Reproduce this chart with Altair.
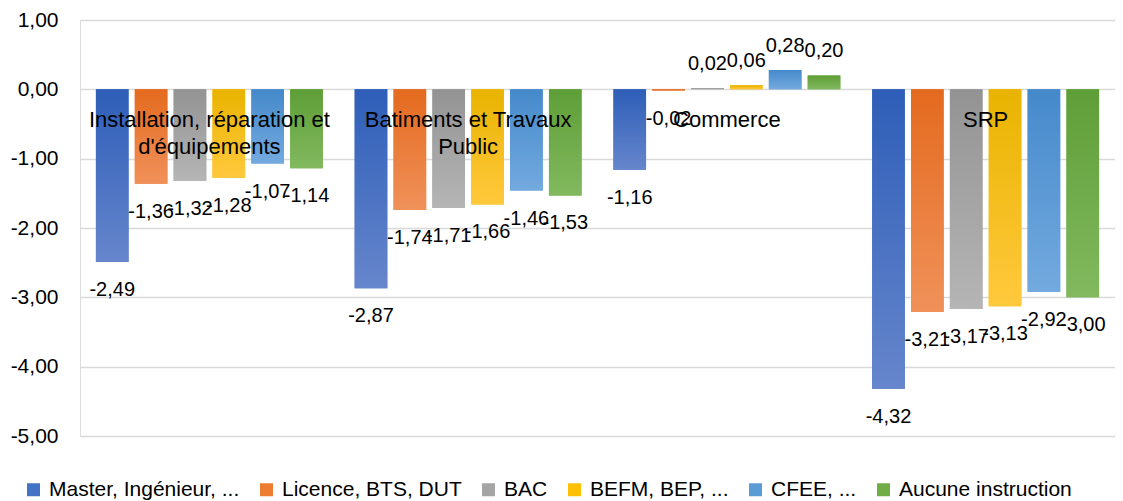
import altair as alt
import pandas as pd

categories = [
    "Installation, réparation et d'équipements",
    "Batiments et Travaux Public",
    "Commerce",
    "SRP",
]
category_labels = [
    "Installation, réparation et\nd'équipements",
    "Batiments et Travaux\nPublic",
    "Commerce",
    "SRP",
]
levels = [
    "Master, Ingénieur, ...",
    "Licence, BTS, DUT",
    "BAC",
    "BEFM, BEP, ...",
    "CFEE, ...",
    "Aucune instruction",
]
values_installation = [-2.49, -1.36, -1.32, -1.28, -1.07, -1.14]
values_btp = [-2.87, -1.74, -1.71, -1.66, -1.46, -1.53]
values_commerce = [-1.16, -0.02, 0.02, 0.06, 0.28, 0.20]
values_srp = [-4.32, -3.21, -3.17, -3.13, -2.92, -3.00]
y_ticks = [1, 0, -1, -2, -3, -4, -5]

colors = ["#4472C4", "#ED7D31", "#A5A5A5", "#FFC000", "#5B9BD5", "#70AD47"]
grad_top = ["#2E5EB8", "#E46A1E", "#939393", "#E9B300", "#4589CB", "#5E9E37"]
grad_bot = ["#6686CC", "#F0915A", "#B5B5B5", "#FFC93D", "#73AADF", "#82B95F"]

all_values = [values_installation, values_btp, values_commerce, values_srp]
rows = []
for cat, vals in zip(categories, all_values):
    for lev, v in zip(levels, vals):
        rows.append({"category": cat, "level": lev, "value": v})
df = pd.DataFrame(rows)
cat_df = pd.DataFrame({"category": categories, "label": category_labels})

FONT = "Liberation Sans"

x_enc = alt.X(
    "category:N",
    sort=categories,
    axis=None,
    scale=alt.Scale(domain=categories, paddingInner=0.123, paddingOuter=0.0615),
)
xoff_enc = alt.XOffset(
    "level:N",
    sort=levels,
    scale=alt.Scale(domain=levels, paddingInner=0.16, paddingOuter=0),
)
y_enc = alt.Y(
    "value:Q",
    scale=alt.Scale(domain=[-5, 1], nice=False, zero=False),
    axis=alt.Axis(
        values=y_ticks,
        labelExpr="replace(replace(format(datum.value, '.2f'), '.', ','), '\u2212', '-')",
        title=None,
        domain=False,
        ticks=False,
        labelPadding=22,
        labelFontSize=21,
        labelColor="#000000",
        gridColor="#d9d9d9",
        gridWidth=1.5,
    ),
)

base = alt.Chart(df)

bars = base.mark_bar().encode(
    x=x_enc,
    xOffset=xoff_enc,
    y=y_enc,
    color=alt.Color(
        "level:N",
        sort=levels,
        scale=alt.Scale(domain=levels, range=colors),
        legend=alt.Legend(
            orient="none",
            legendX=-57,
            legendY=459,
            direction="horizontal",
            title=None,
            symbolType="square",
            symbolSize=169,
            symbolStrokeWidth=0,
            symbolOpacity=1,
            labelFontSize=21,
            labelColor="#000000",
            labelLimit=400,
            labelOffset=5,
            columnPadding=16,
        ),
    ),
)

grad_layers = []
for lev, top, bot in zip(levels, grad_top, grad_bot):
    g = alt.Gradient(
        gradient="linear",
        stops=[
            alt.GradientStop(color=top, offset=0),
            alt.GradientStop(color=bot, offset=1),
        ],
        x1=0, x2=0, y1=0, y2=1,
    )
    grad_layers.append(
        base.transform_filter(alt.datum.level == lev)
        .mark_bar(color=g)
        .encode(x=x_enc, xOffset=xoff_enc, y="value:Q")
    )

label_expr = "replace(replace(format(datum.value, '.2f'), '.', ','), '\u2212', '-')"

neg_labels = (
    base.transform_filter(alt.datum.value < 0)
    .transform_calculate(txt=label_expr)
    .mark_text(baseline="middle", align="center", dy=28, fontSize=20, color="#000000")
    .encode(x=x_enc, xOffset=xoff_enc, y="value:Q", text="txt:N")
)
pos_labels = (
    base.transform_filter(alt.datum.value >= 0)
    .transform_calculate(txt=label_expr)
    .mark_text(baseline="middle", align="center", dy=-24, fontSize=20, color="#000000")
    .encode(x=x_enc, xOffset=xoff_enc, y="value:Q", text="txt:N")
)

cat_text = (
    alt.Chart(cat_df)
    .mark_text(baseline="middle", align="center", dy=31, fontSize=22, lineBreak="\n",
               lineHeight=27, color="#000000")
    .encode(x=x_enc, y=alt.datum(0), text="label:N")
)

chart = (
    alt.layer(bars, *grad_layers, neg_labels, pos_labels, cat_text)
    .properties(
        width=1035,
        height=416,
        autosize=alt.AutoSizeParams(type="none"),
        padding={"left": 72, "top": 12, "right": 0, "bottom": 65},
    )
    .configure_view(stroke=None)
    .configure(font=FONT)
)

chart.save("out.html", embed_options={"renderer": "svg", "actions": False})
